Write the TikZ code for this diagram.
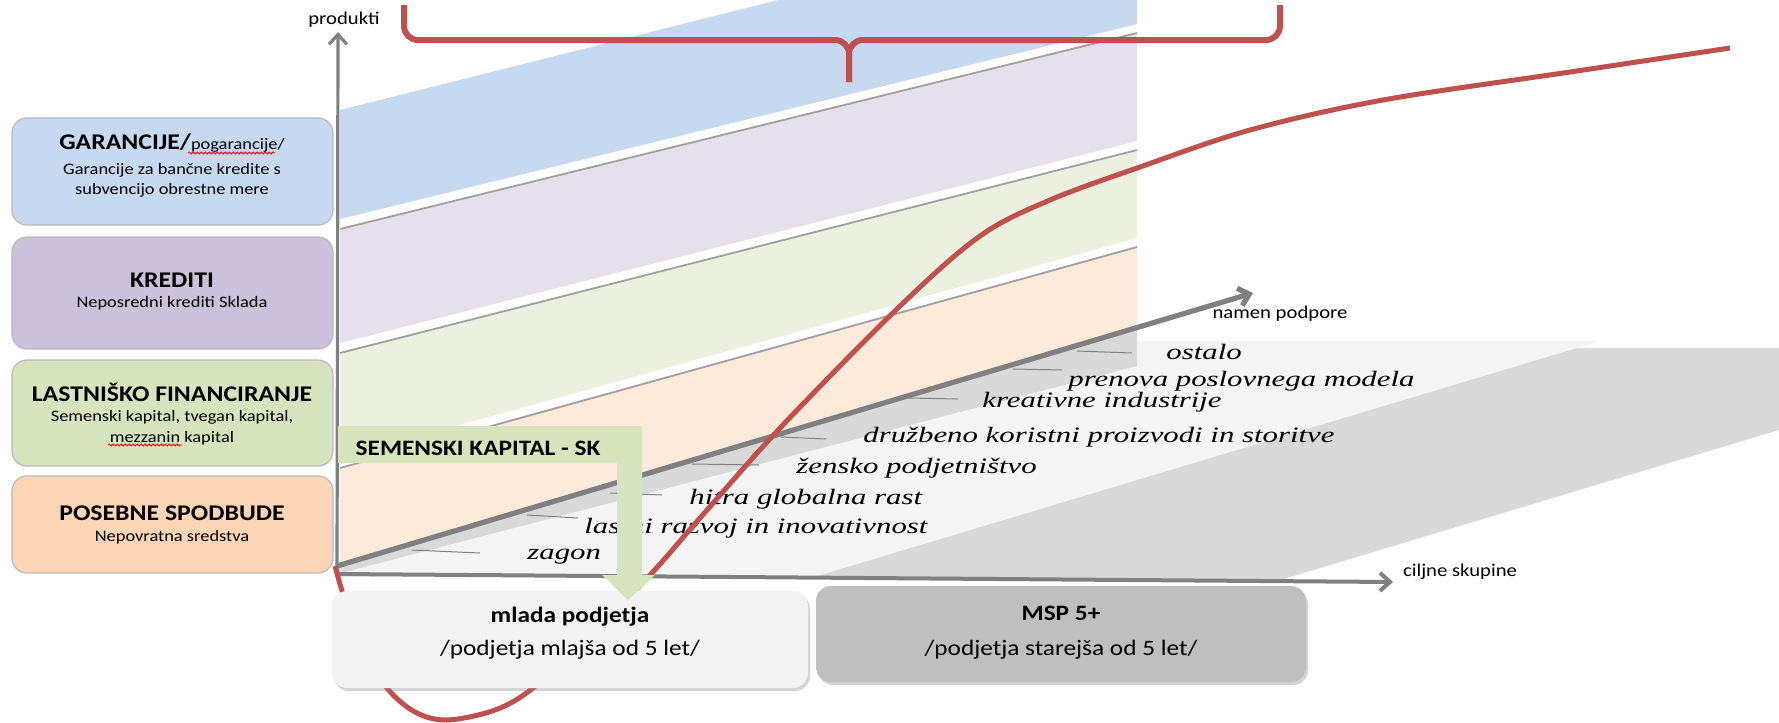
\documentclass[tikz,border=0pt]{standalone}
\usepackage{fontspec}
\setmainfont{Carlito}[FakeStretch=1.15]
\newfontfamily\hand{Liberation Serif}[FakeStretch=1.4]
\usetikzlibrary{arrows.meta,shadows,decorations.pathmorphing}
\definecolor{bluebox}{HTML}{C6D9F1}
\definecolor{lilacbox}{HTML}{CCC1DA}
\definecolor{greenbox}{HTML}{D7E4BD}
\definecolor{peachbox}{HTML}{FBD5B5}
\definecolor{blueband}{HTML}{C6D9F0}
\definecolor{lilacband}{HTML}{E5E0EC}
\definecolor{greenband}{HTML}{EBF1DE}
\definecolor{peachband}{HTML}{FDEADA}
\definecolor{floorlight}{HTML}{F4F4F4}
\definecolor{floordark}{HTML}{D9D9D9}
\definecolor{axisgray}{HTML}{808080}
\definecolor{redc}{HTML}{C0504D}
\definecolor{youngbox}{HTML}{F2F2F2}
\definecolor{oldbox}{HTML}{BFBFBF}
\begin{document}
\begin{tikzpicture}[x=0.5pt,y=-0.5pt,
  lbox/.style={draw=gray!55, line width=0.6pt, rounded corners=7.5pt, minimum width=160.5pt, inner sep=0pt},
  ttl/.style={font=\bfseries\fontsize{11.2}{13}\selectfont, inner sep=0pt},
  subt/.style={font=\fontsize{8}{9.6}\selectfont, inner sep=0pt},
  hw/.style={font=\hand\itshape\fontsize{11}{13}\selectfont, anchor=west, inner sep=0pt},
  lead/.style={draw=axisgray, line width=0.5pt},
  sepline/.style={draw=gray!75, line width=0.9pt},
  axis/.style={draw=axisgray, -{Straight Barb[length=5pt,width=9pt]}},
  axlabel/.style={font=\fontsize{9}{11}\selectfont, inner sep=0pt},
  bbox/.style={rounded corners=7.5pt, inner sep=0pt, drop shadow={opacity=0.35, shadow xshift=1pt, shadow yshift=-1.5pt}},
  redline/.style={draw=redc, line width=2.5pt},
  brace/.style={draw=redc, line width=3pt, rounded corners=7pt},
  squig/.style={draw=red, line width=0.4pt, decorate, decoration={snake, amplitude=0.5pt, segment length=2pt}}
]
\useasboundingbox (0,0) rectangle (1779,723);
\clip (0,0) rectangle (1779,723);

% floor
\fill[floorlight] (337,570) -- (1137,330) -- (1137,341) -- (1600,341) -- (814,577) -- (337,577) -- cycle;
\fill[floordark] (814,577) -- (1577,348) -- (1779,348) -- (1779,430) -- (1277,581) -- cycle;
\fill[floordark] (337,566) -- (1137,327) -- (1137,366) -- (337,574) -- cycle;

% bands
\fill[blueband] (340,110) -- (1137,-90) -- (1137,24) -- (340,219) -- cycle;
\fill[lilacband] (340,229) -- (1137,33) -- (1137,141) -- (340,343) -- cycle;
\fill[greenband] (340,353) -- (1137,150) -- (1137,238) -- (340,458) -- cycle;
\fill[peachband] (340,468) -- (1137,247) -- (1137,327) -- (340,565) -- cycle;
\draw[sepline] (340,229) -- (1137,33);
\draw[sepline] (340,353) -- (1137,150);
\draw[sepline] (340,468) -- (1137,247);

% axes
\coordinate (O) at (337,566);
\coordinate (Obot) at (337,577);
\coordinate (Otop) at (338,32);
\coordinate (Oh) at (337,574);
\coordinate (Xend) at (1393,582);
\coordinate (Dend) at (1253,293);
\draw[axis, line width=1.6pt] (Obot) -- (Otop);
\draw[axis, line width=2pt] (Oh) -- (Xend);
\draw[axis, line width=2.6pt] (O) -- (Dend);

\node[axlabel] (produkti) at (344,20) {produkti};
\node[axlabel] (namen) at (1280,314) {namen podpore};
\node[axlabel] (ciljne) at (1460,572) {ciljne skupine};

% leader lines
\coordinate (a1) at (412,550); \coordinate (b1) at (480,553);
\coordinate (a2) at (527,515); \coordinate (b2) at (578,518);
\coordinate (a3) at (610,493); \coordinate (b3) at (662,495);
\coordinate (a4) at (692,464); \coordinate (b4) at (759,465);
\coordinate (a5) at (781,437); \coordinate (b5) at (826,439);
\coordinate (a6) at (908,398); \coordinate (b6) at (958,399);
\coordinate (a7) at (1013,369); \coordinate (b7) at (1062,370);
\coordinate (a8) at (1077,351); \coordinate (b8) at (1132,353);
\foreach \i in {1,...,8} {\draw[lead] (a\i) -- (b\i);}

% labels
\node[hw] (zagon) at (527,557) {zagon};
\node[hw] (lastni) at (584,528) {lastni razvoj in inovativnost};
\node[hw] (hitra) at (689,499) {hitra globalna rast};
\node[hw] (zensko) at (796,468) {žensko podjetništvo};
\node[hw] (druzbeno) at (863,437) {družbeno koristni proizvodi in storitve};
\node[hw] (kreativne) at (982,402) {kreativne industrije};
\node[hw] (prenova) at (1068,381) {prenova poslovnega modela};
\node[hw] (ostalo) at (1166,352) {ostalo};

% left boxes
\node[lbox, fill=bluebox, minimum height=53.5pt] (gar) at (172.5,171.5) {};
\node[lbox, fill=lilacbox, minimum height=56pt] (kre) at (172.5,293) {};
\node[lbox, fill=greenbox, minimum height=53pt] (last) at (172.5,413) {};
\node[lbox, fill=peachbox, minimum height=48.5pt] (pos) at (172.5,524.5) {};

\node[ttl] (garT) at (172,143) {GARANCIJE/{\mdseries\fontsize{8}{9.6}\selectfont pogarancije/}};
\node[subt] (garS1) at (172,170) {Garancije za bančne kredite s};
\node[subt] (garS2) at (172,190) {subvencijo obrestne mere};
\node[ttl] (kreT) at (172,280) {KREDITI};
\node[subt] (kreS) at (172,303) {Neposredni krediti Sklada};
\node[ttl] (lastT) at (172,392) {LASTNIŠKO FINANCIRANJE};
\node[subt] (lastS1) at (172,417) {Semenski kapital, tvegan kapital,};
\node[subt] (lastS2) at (172,438) {mezzanin kapital};
\node[ttl] (posT) at (172,513) {POSEBNE SPODBUDE};
\node[subt] (posS) at (172,537) {Nepovratna sredstva};
\draw[squig] (188,153) -- (275,153);
\draw[squig] (108,445) -- (182,445);

% red curve
\draw[redline] plot[smooth, tension=0.55] coordinates {(335,566) (343,594) (360,645) (387,688) (415,712) (447,720) (495,710) (533,688) (590,635) (650,575) (700,518) (781,427) (899,307) (980,236) (1050,200) (1140,167) (1250,130) (1383,100) (1570,72) (1730,48)};

% bottom boxes
\node[bbox, fill=youngbox, minimum width=238pt, minimum height=48.5pt] (mlada) at (570,639.5) {};
\node[bbox, fill=oldbox, minimum width=245pt, minimum height=48pt] (msp) at (1061,634) {};
\node[ttl, font=\bfseries\fontsize{11}{13}\selectfont] (mladaT) at (570,617) {mlada podjetja};
\node[inner sep=0pt, font=\fontsize{11}{13}\selectfont] (mladaS) at (570,650) {/podjetja mlajša od 5 let/};
\node[ttl, font=\bfseries\fontsize{11}{13}\selectfont] (mspT) at (1061,613) {MSP 5+};
\node[inner sep=0pt, font=\fontsize{11}{13}\selectfont] (mspS) at (1061,650) {/podjetja starejša od 5 let/};

% seed capital arrow
\fill[greenbox] (338,426) -- (642,426) -- (642,575) -- (655,575) -- (628,600) -- (602,575) -- (617,575) -- (617,463) -- (338,463) -- cycle;
\node[ttl, font=\bfseries\fontsize{11}{13}\selectfont] (sk) at (478,448) {SEMENSKI KAPITAL - SK};

% brace
\draw[brace] (404,5) -- (404,40) -- (849,40) -- (849,82);
\draw[brace] (1280,5) -- (1280,40) -- (849,40) -- (849,82);
\end{tikzpicture}
\end{document}
